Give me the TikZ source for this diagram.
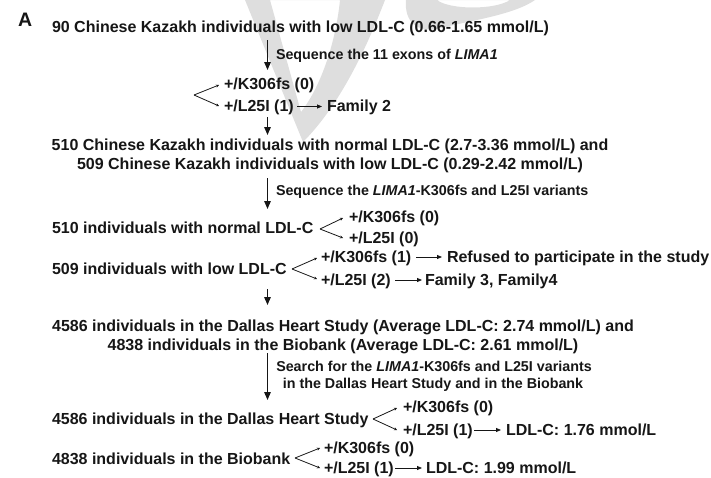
\documentclass[tikz,border=0pt]{standalone}
\usepackage{fontspec}
\setmainfont{Liberation Sans}
\usetikzlibrary{arrows.meta}
\definecolor{ink}{HTML}{161616}
\definecolor{wmark}{HTML}{DEDEDE}

\begin{document}
\begin{tikzpicture}[x=1pt,y=-1pt,
  every node/.style={inner sep=0pt, outer sep=0pt, text=ink},
  big/.style={font=\fontsize{19.5}{22}\selectfont\bfseries, anchor=base west},
  txt/.style={font=\fontsize{16}{19}\selectfont\bfseries, anchor=base west},
  ctxt/.style={font=\fontsize{16}{19}\selectfont\bfseries, anchor=base},
  note/.style={font=\fontsize{14.3}{17}\selectfont\bfseries, anchor=base west},
  cnote/.style={font=\fontsize{14.3}{17}\selectfont\bfseries, anchor=base},
  flow/.style={draw=ink, line width=1.4pt, -{Triangle[length=8pt,width=6.5pt]}},
  fork/.style={draw=ink, line width=0.8pt, -{Stealth[length=3pt,width=3pt]}},
  outcome/.style={draw=ink, line width=0.8pt, -{Triangle[length=5pt,width=4pt]}}
]
\useasboundingbox (0,0) rectangle (711,477);

% faint letter shapes in the background
\begin{scope}
  \clip (0,0) rectangle (711,477);
  \fill[wmark, even odd rule]
    (245,0) -- (303,142) .. controls (335,110) and (362,60) .. (385,0) -- cycle
    (270,0) -- (301,112) .. controls (322,85) and (336,40) .. (340,0) -- cycle;
  \fill[wmark, even odd rule]
    (406,0) .. controls (404,22) and (418,34) .. (440,28)
            .. controls (475,20) and (515,14) .. (535,0) -- cycle
    (437,0) .. controls (450,10) and (495,10) .. (510,0) -- cycle;
\end{scope}

% panel letter
\node[big] (panel) at (18,26.5) {A};

% stage 1
\node[txt] (s1) at (52,32) {90 Chinese Kazakh individuals with low LDL-C (0.66-1.65 mmol/L)};
\coordinate (a1s) at (267.5,40);
\coordinate (a1e) at (267.5,70);
\draw[flow] (a1s) -- (a1e);
\node[note] (n1) at (276,59) {Sequence the 11 exons of \textit{LIMA1}};

\coordinate (v1) at (194,95);
\node[txt] (k1) at (224,89.5) {+/K306fs (0)};
\node[txt] (l1) at (224,111.5) {+/L25I (1)};
\coordinate (v1a) at (219,85);
\coordinate (v1b) at (219,106);
\draw[fork] (v1) -- (v1a);
\draw[fork] (v1) -- (v1b);
\coordinate (r1s) at (297,106.5);
\coordinate (r1e) at (322,106.5);
\draw[outcome] (r1s) -- (r1e);
\node[txt] (f2) at (327,111.5) {Family 2};

\coordinate (a2s) at (267.5,117);
\coordinate (a2e) at (267.5,135);
\draw[flow] (a2s) -- (a2e);

% stage 2
\node[ctxt] (s2a) at (330,150.5) {510 Chinese Kazakh individuals with normal LDL-C (2.7-3.36 mmol/L) and};
\node[ctxt] (s2b) at (330,169.5) {509 Chinese Kazakh individuals with low LDL-C (0.29-2.42 mmol/L)};
\coordinate (a3s) at (267.5,178);
\coordinate (a3e) at (267.5,209);
\draw[flow] (a3s) -- (a3e);
\node[note] (n3) at (276,195) {Sequence the \textit{LIMA1}-K306fs and L25I variants};

% normal group
\node[txt] (g1) at (52,233.5) {510 individuals with normal LDL-C};
\coordinate (v2) at (320,229);
\coordinate (v2a) at (343,218);
\coordinate (v2b) at (343,238);
\draw[fork] (v2) -- (v2a);
\draw[fork] (v2) -- (v2b);
\node[txt] (k2) at (349,222.5) {+/K306fs (0)};
\node[txt] (l2) at (349,243.5) {+/L25I (0)};

% low group
\node[txt] (g2) at (52,274.5) {509 individuals with low LDL-C};
\coordinate (v3) at (292,269);
\coordinate (v3a) at (317,258);
\coordinate (v3b) at (317,279);
\draw[fork] (v3) -- (v3a);
\draw[fork] (v3) -- (v3b);
\node[txt] (k3) at (321,262.5) {+/K306fs (1)};
\coordinate (r3s) at (416,257);
\coordinate (r3e) at (442,257);
\draw[outcome] (r3s) -- (r3e);
\node[txt] (ref) at (447,262.5) {Refused to participate in the study};
\node[txt] (l3) at (321,285.5) {+/L25I (2)};
\coordinate (r4s) at (395,280);
\coordinate (r4e) at (422,280);
\draw[outcome] (r4s) -- (r4e);
\node[txt] (f34) at (425,285.5) {Family 3, Family4};

\coordinate (a4s) at (267.5,289);
\coordinate (a4e) at (267.5,305);
\draw[flow] (a4s) -- (a4e);

% stage 3
\node[ctxt] (s3a) at (343,331.5) {4586 individuals in the Dallas Heart Study (Average LDL-C: 2.74 mmol/L) and};
\node[ctxt] (s3b) at (343,350.5) {4838 individuals in the Biobank (Average LDL-C: 2.61 mmol/L)};
\coordinate (a5s) at (267.5,353);
\coordinate (a5e) at (267.5,400);
\draw[flow] (a5s) -- (a5e);
\node[cnote] (n5a) at (434,371) {Search for the \textit{LIMA1}-K306fs and L25I variants};
\node[cnote] (n5b) at (433,388) {in the Dallas Heart Study and in the Biobank};

% Dallas Heart Study
\node[txt] (d1) at (52,424.5) {4586 individuals in the Dallas Heart Study};
\coordinate (v4) at (373,419);
\coordinate (v4a) at (397,408);
\coordinate (v4b) at (397,430);
\draw[fork] (v4) -- (v4a);
\draw[fork] (v4) -- (v4b);
\node[txt] (k4) at (403,412.5) {+/K306fs (0)};
\node[txt] (l4) at (403,435.5) {+/L25I (1)};
\coordinate (r5s) at (474,430);
\coordinate (r5e) at (501,430);
\draw[outcome] (r5s) -- (r5e);
\node[txt] (ldl1) at (506,435.5) {LDL-C: 1.76 mmol/L};

% Biobank
\node[txt] (b1) at (52,464.5) {4838 individuals in the Biobank};
\coordinate (v5) at (295,458);
\coordinate (v5a) at (320,448);
\coordinate (v5b) at (320,468);
\draw[fork] (v5) -- (v5a);
\draw[fork] (v5) -- (v5b);
\node[txt] (k5) at (324,453.5) {+/K306fs (0)};
\node[txt] (l5) at (324,473.5) {+/L25I (1)};
\coordinate (r6s) at (395,468);
\coordinate (r6e) at (422,468);
\draw[outcome] (r6s) -- (r6e);
\node[txt] (ldl2) at (426,473.5) {LDL-C: 1.99 mmol/L};
\end{tikzpicture}
\end{document}
